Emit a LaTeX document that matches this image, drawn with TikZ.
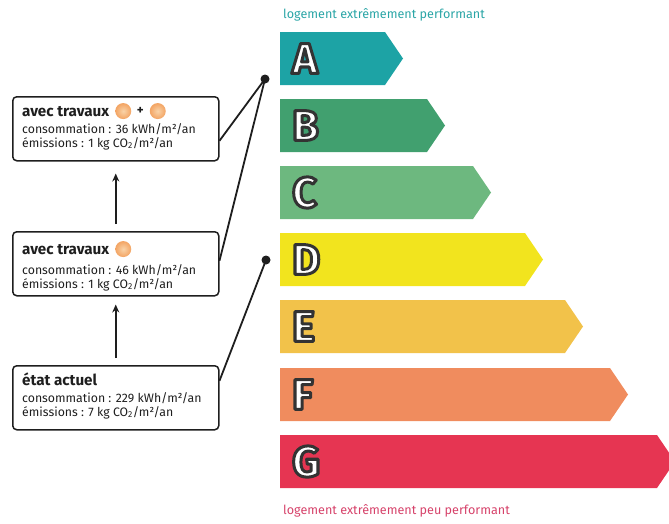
\documentclass[tikz,border=0pt]{standalone}
\usepackage{fontspec}
\setmainfont{Fira Sans}
\newfontfamily\letterfont{Fira Sans}
\usetikzlibrary{calc,arrows.meta}
\definecolor{cA}{HTML}{1DA3A5}
\definecolor{cB}{HTML}{41A06F}
\definecolor{cC}{HTML}{6DB87F}
\definecolor{cD}{HTML}{F2E41E}
\definecolor{cE}{HTML}{F2C24A}
\definecolor{cF}{HTML}{F08C5E}
\definecolor{cG}{HTML}{E63552}
\definecolor{cTop}{HTML}{2AA5A6}
\definecolor{cBot}{HTML}{D6426A}
\definecolor{cLine}{HTML}{1E1E1E}
\definecolor{cOrb}{HTML}{F3A463}
\definecolor{cOrbIn}{HTML}{F9D3A8}
\newcommand\outlined[1]{\special{pdf:literal direct 2 Tr 1 j 3 w 0.2 0.2 0.2 RG}#1\special{pdf:literal direct 0 Tr}}
\tikzset{
  box/.style={draw=cLine, line width=1.5pt, rounded corners=4pt, minimum width=206pt, minimum height=64pt, anchor=north west, inner sep=0pt},
  ttl/.style={anchor=base west, inner sep=0pt, font=\fontsize{15.2}{18}\selectfont\bfseries, text=cLine},
  info/.style={anchor=base west, inner sep=0pt, font=\fontsize{12.3}{14}\selectfont, text=cLine},
  letter/.style={anchor=west, inner sep=0pt, text=white, font=\letterfont\bfseries\fontsize{43}{43}\selectfont},
  orb/.style={circle, minimum size=16pt, inner sep=0pt, inner color=cOrbIn, outer color=cOrb},
  pinpt/.style={circle, fill=cLine, minimum size=9pt, inner sep=0pt},
  conn/.style={draw=cLine, line width=1.8pt},
  up/.style={draw=cLine, line width=1.6pt, -{Stealth[length=8pt,width=7pt]}},
  caption/.style={anchor=base west, inner sep=0pt, font=\fontsize{12.6}{14}\selectfont}
}
\begin{document}
\begin{tikzpicture}[x=1pt,y=-1pt]
\useasboundingbox (0,0) rectangle (669,523);
% captions
\node[caption, text=cTop] (capTop) at (283,18) {logement extrêmement performant};
\node[caption, text=cBot] (capBot) at (283,514) {logement extrêmement peu performant};
% bars
\foreach \L/\t/\e/\c in {A/32/385/cA, B/99/427/cB, C/166/473/cC, D/233/525/cD, E/300/565/cE, F/368/610/cF, G/435/657/cG}{
  \fill[\c] (280,\t) -- (\e,\t) -- (\e+18,\t+26.5) -- (\e,\t+53) -- (280,\t+53) -- cycle;
  \node[letter] (L\L) at (292,\t+26.5) {\outlined{\L}};
}
% boxes
\node[box] (b1) at (12,96) {};
\node[box] (b2) at (12,231) {};
\node[box] (b3) at (12,365) {};
% box 1 text
\node[ttl] (t1) at (22,116) {avec travaux};
\node[orb] (o1a) at ($(t1.east)+(14,0)$) {};
\node[inner sep=0pt, font=\fontsize{13}{13}\selectfont\bfseries, text=cLine] (p1) at ($(o1a.center)+(17,0)$) {+};
\node[orb] (o1b) at ($(o1a.center)+(34.5,0)$) {};
\node[info] (c1) at (22,133) {consommation : 36 kWh/m²/an};
\node[info] (e1) at (22,147) {émissions : 1 kg CO\textsubscript{2}/m²/an};
% box 2 text
\node[ttl] (t2) at (22,254) {avec travaux};
\node[orb] (o2a) at ($(t2.east)+(14,0)$) {};
\node[info] (c2) at (22,274) {consommation : 46 kWh/m²/an};
\node[info] (e2) at (22,288) {émissions : 1 kg CO\textsubscript{2}/m²/an};
% box 3 text
\node[ttl] (t3) at (22,385) {état actuel};
\node[info] (c3) at (22,402) {consommation : 229 kWh/m²/an};
\node[info] (e3) at (22,416) {émissions : 7 kg CO\textsubscript{2}/m²/an};
% vertical arrows
\draw[up] ($(b2.north)+(0,-7)$) -- ($(b1.south)+(0,12)$);
\draw[up] ($(b3.north)+(0,-7)$) -- ($(b2.south)+(0,8)$);
% pins and connectors
\node[pinpt] (d1) at (265,79) {};
\node[pinpt] (d2) at (266,260) {};
\draw[conn] ($(b1.east)+(0,12)$) -- (d1.center);
\draw[conn] ($(b2.east)+(0,-3)$) -- (d1.center);
\draw[conn] ($(b3.east)+(0,-17)$) -- (d2.center);
\end{tikzpicture}
\end{document}
